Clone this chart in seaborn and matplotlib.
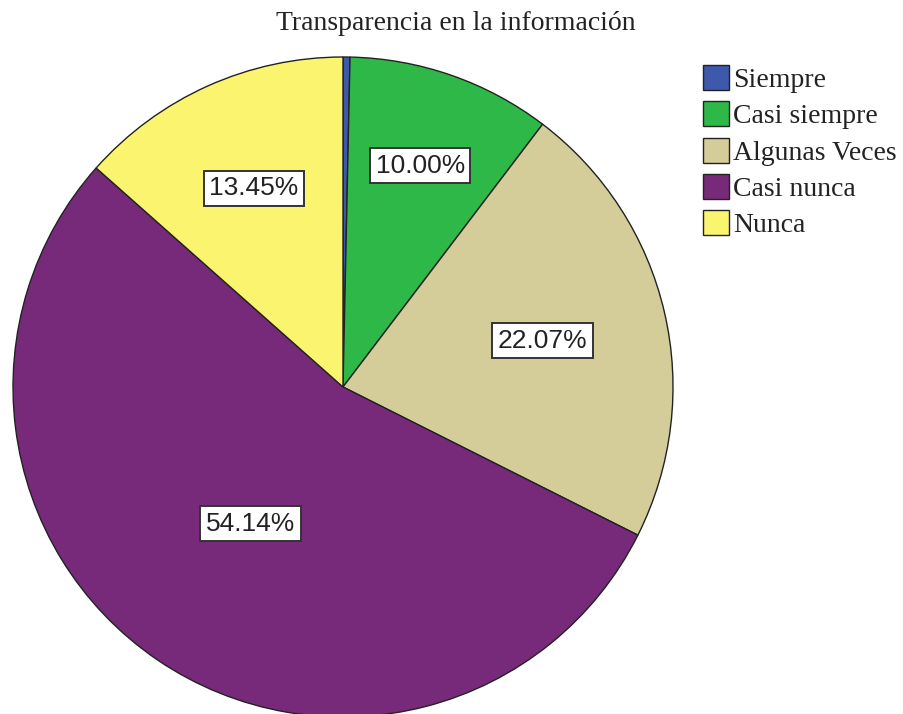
import matplotlib
matplotlib.use("Agg")
import matplotlib.pyplot as plt
import seaborn as sns
import numpy as np

categorias = ["Siempre", "Casi siempre", "Algunas Veces", "Casi nunca", "Nunca"]
porcentajes = [0.34, 10.00, 22.07, 54.14, 13.45]
colores = ["#3E58AC", "#2EB848", "#D4CC99", "#782A7A", "#FBF46F"]
titulo = "Transparencia en la información"

sns.set_theme(style="white")
plt.rcParams['font.family'] = ['Liberation Serif', 'DejaVu Serif']

fig = plt.figure(figsize=(9.04, 7.14), dpi=100)
ax = fig.add_axes([13 / 904, -3 / 714, 660 / 904, 660 / 714])

wedges, texts, autotexts = ax.pie(
    porcentajes, colors=colores, startangle=90, counterclock=False,
    radius=1, autopct=lambda p: f"{p:.2f}%" if p > 1 else "",
    pctdistance=0.62,
    wedgeprops=dict(edgecolor="#222222", linewidth=1.0),
)
ax.set_xlim(-1, 1)
ax.set_ylim(-1, 1)
ax.set_aspect("equal")

# label distance per slice, SPSS places them unevenly
dist = [0.6, 0.71, 0.62, 0.5, 0.66]
for w, t, d in zip(wedges, autotexts, dist):
    ang = np.deg2rad((w.theta1 + w.theta2) / 2)
    t.set_position((d * np.cos(ang), d * np.sin(ang)))
    t.set_fontfamily(['Liberation Sans', 'DejaVu Sans'])
    t.set_fontsize(19)
    t.set_color("#222222")
    t.set_bbox(dict(facecolor="white", edgecolor="#333333", linewidth=1.4, pad=4))

fig.text(0.504, 1 - 23 / 714, titulo, ha="center", va="center", fontsize=20, color="#222222")

leg = fig.legend(wedges, categorias, loc="upper left", bbox_to_anchor=(692 / 904, 1 - 54 / 714),
                 frameon=False, fontsize=20, handlelength=0.95, handleheight=1.0,
                 handletextpad=0.12, labelspacing=0.3, borderaxespad=0)
for txt in leg.get_texts():
    txt.set_color("#222222")

fig.savefig("out.png", dpi=100)
